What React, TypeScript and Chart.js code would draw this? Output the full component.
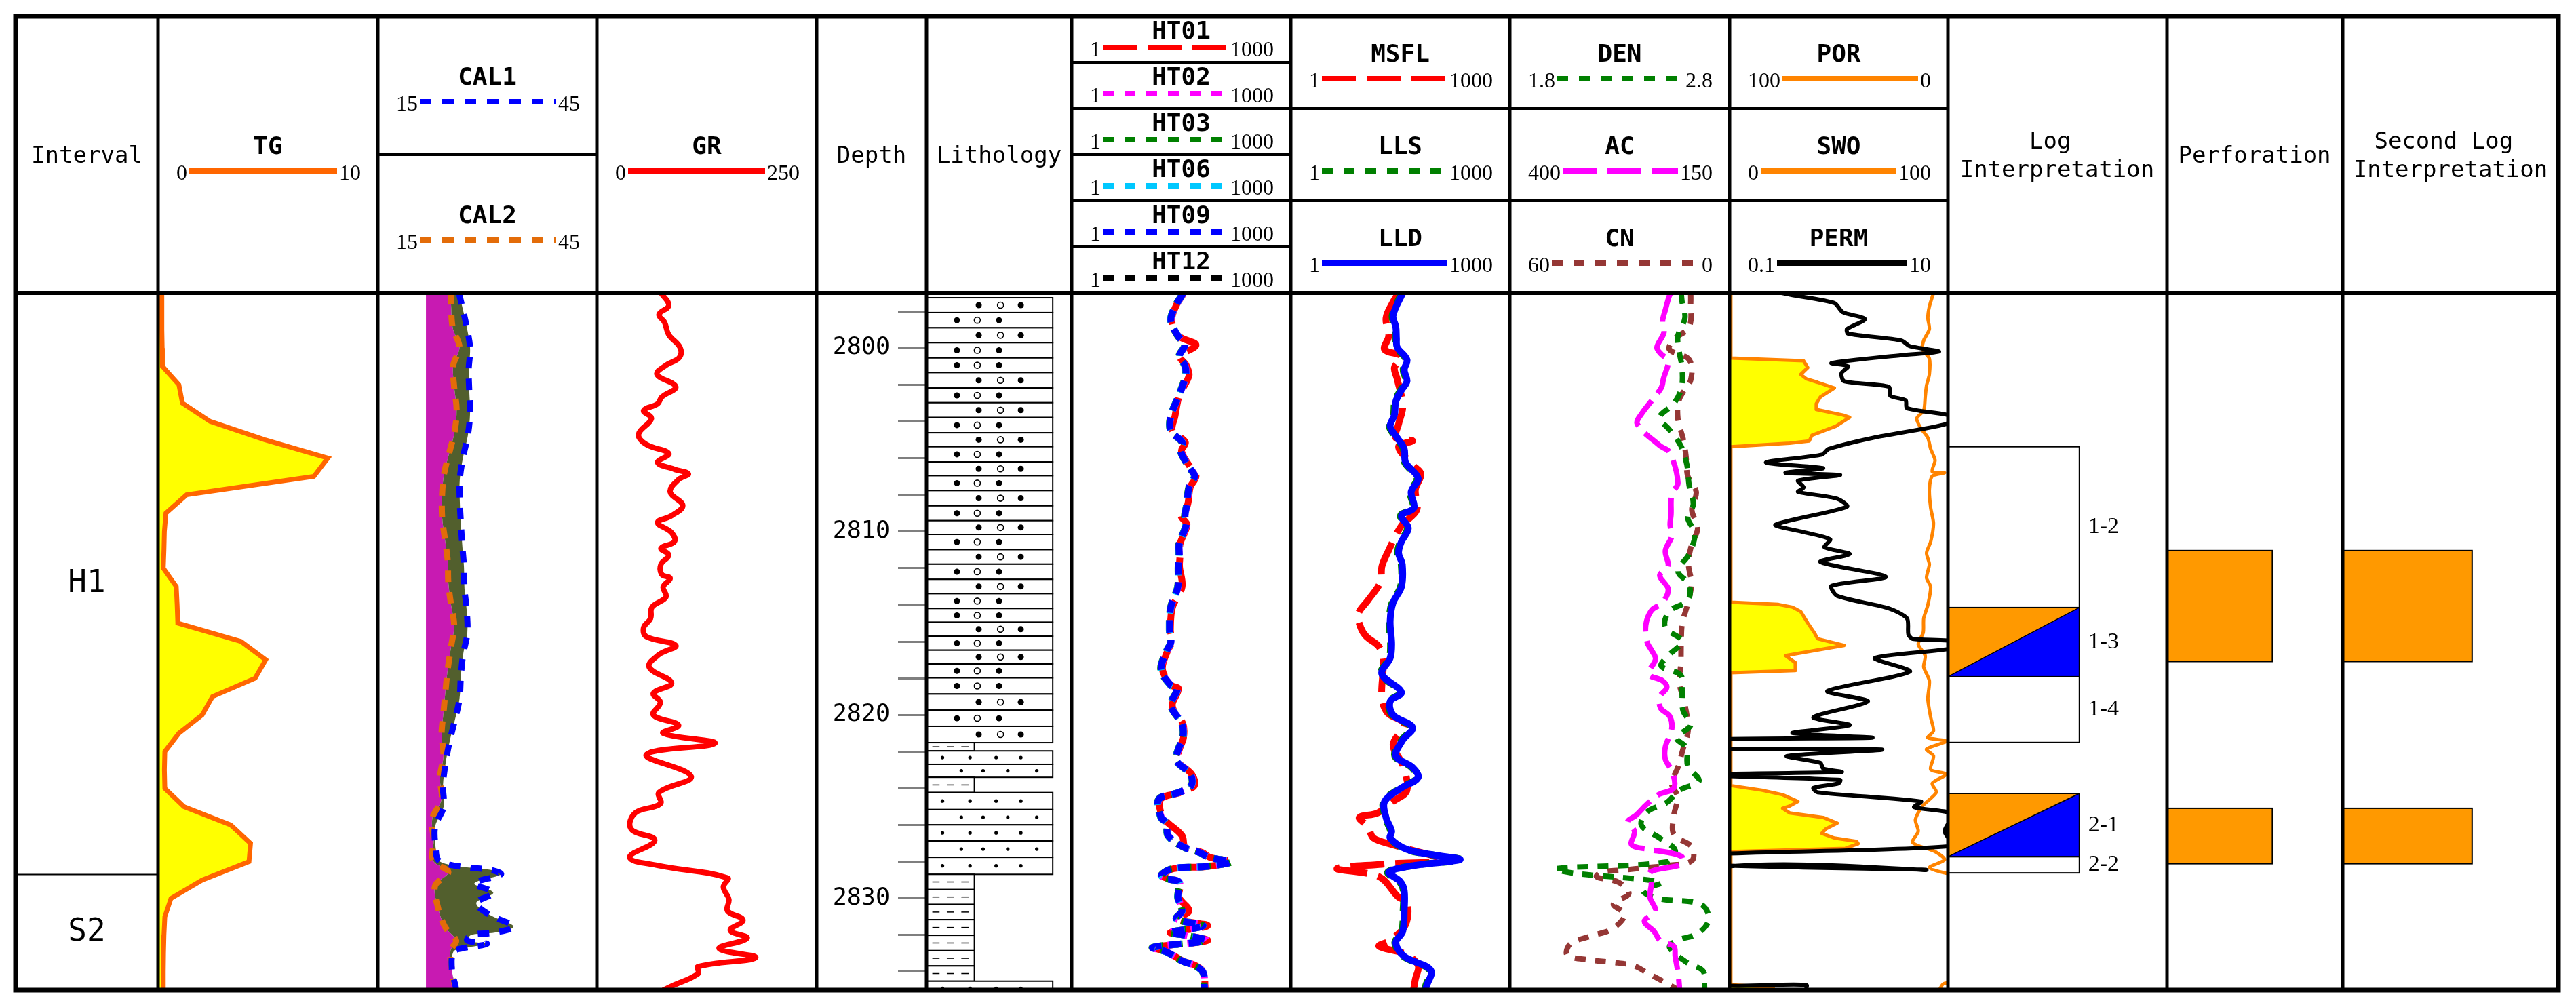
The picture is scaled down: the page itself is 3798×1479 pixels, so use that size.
import React, { useEffect, useRef } from "react";
import { Chart, registerables } from "chart.js";

Chart.register(...registerables);

/* ======================= DATA ======================= */
const DEPTH_TOP = 2797;
const DEPTH_BASE = 2835;
const DEPTH_TICKS = [2798, 2800, 2802, 2804, 2806, 2808, 2810, 2812, 2814, 2816, 2818, 2820, 2822, 2824, 2826, 2828, 2830, 2832, 2834];
const DEPTH_LABELS = [2800, 2810, 2820, 2830];

const INTERVAL_NAMES = ["H1", "S2"];
const INTERVAL_TOP = [2797, 2828.7];
const INTERVAL_BASE = [2828.7, 2835];

const TG_DEPTH = [2797, 2798, 2799, 2800, 2801, 2802, 2803, 2804, 2805, 2806, 2807, 2808, 2809, 2810, 2811, 2812, 2813, 2814, 2815, 2816, 2817, 2818, 2819, 2820, 2821, 2822, 2823, 2824, 2825, 2826, 2827, 2828, 2829, 2830, 2831, 2832, 2833, 2834, 2835];
const TG = [0.17, 0.17, 0.18, 0.19, 0.2, 0.95, 1.11, 2.37, 4.85, 7.73, 7.09, 1.3, 0.36, 0.29, 0.27, 0.24, 0.83, 0.87, 0.9, 3.78, 4.9, 4.42, 2.48, 2.01, 0.95, 0.31, 0.29, 0.31, 1.18, 3.31, 4.21, 4.14, 2.01, 0.59, 0.31, 0.27, 0.25, 0.24, 0.24];

const CAL1_DEPTH = [2797.00, 2797.62, 2798.85, 2800.02, 2801.19, 2802.36, 2803.53, 2804.76, 2805.93, 2807.17, 2808.31, 2809.54, 2810.74, 2811.91, 2813.14, 2814.31, 2815.55, 2816.71, 2817.89, 2819.13, 2820.31, 2821.43, 2822.67, 2823.85, 2825.03, 2826.09, 2827.27, 2827.89, 2828.14, 2828.32, 2828.45, 2828.69, 2829.19, 2829.69, 2830.25, 2830.90, 2831.53, 2831.86, 2831.99, 2832.30, 2832.48, 2832.73, 2832.92, 2833.91, 2834.78, 2835.00];
const CAL1 = [26.1, 26.49, 27.18, 27.64, 27.45, 27.53, 27.64, 27.34, 26.69, 26.23, 26.23, 26.38, 26.57, 26.80, 26.88, 27.18, 27.26, 26.69, 26.38, 26.19, 25.54, 24.85, 24.27, 23.93, 24.00, 22.85, 22.93, 23.24, 24.58, 27.45, 30.52, 31.86, 28.22, 30.82, 28.49, 30.33, 33.58, 31.09, 27.84, 27.26, 29.94, 26.49, 25.34, 25.15, 25.65, 25.7];
const CAL2_DEPTH = [2797.00, 2797.68, 2798.91, 2799.96, 2800.94, 2802.11, 2803.35, 2804.52, 2805.63, 2806.86, 2808.00, 2809.20, 2810.43, 2811.60, 2812.77, 2814.01, 2815.11, 2816.28, 2817.52, 2818.70, 2819.88, 2821.06, 2822.24, 2823.42, 2824.60, 2825.65, 2826.83, 2827.95, 2828.57, 2829.31, 2830.49, 2831.55, 2832.30, 2832.85, 2833.91, 2834.78, 2835.00];
const CAL2 = [25.0, 25.04, 25.27, 26.19, 25.34, 25.46, 25.80, 25.54, 24.85, 24.08, 23.81, 23.81, 24.20, 24.58, 24.66, 25.04, 25.46, 25.04, 24.58, 24.27, 24.00, 23.74, 24.00, 23.51, 23.74, 22.47, 22.66, 22.59, 24.66, 22.85, 23.24, 24.20, 25.73, 24.96, 25.15, 25.54, 25.6];
const BIT_DEPTH = [2797, 2835];
const BIT = [21.6, 21.6];

const GR_DEPTH = [2797.00, 2797.68, 2798.17, 2798.60, 2799.28, 2799.96, 2800.51, 2800.94, 2801.44, 2802.11, 2802.67, 2803.04, 2803.41, 2803.84, 2804.70, 2805.26, 2805.75, 2806.24, 2806.61, 2806.86, 2807.17, 2807.84, 2808.58, 2809.14, 2809.51, 2810.06, 2810.56, 2810.92, 2811.29, 2811.79, 2812.34, 2812.55, 2813.02, 2813.57, 2814.13, 2814.74, 2815.24, 2815.73, 2816.21, 2816.71, 2817.39, 2818.26, 2818.82, 2819.32, 2820.00, 2820.56, 2821.00, 2821.55, 2822.17, 2823.35, 2824.22, 2824.84, 2825.34, 2826.21, 2826.83, 2827.76, 2828.20, 2828.88, 2829.38, 2830.06, 2830.68, 2831.18, 2831.74, 2832.17, 2832.73, 2833.23, 2833.72, 2834.10, 2834.78, 2835.00];
const GR = [72.9, 81.8, 70.7, 77.0, 81.8, 94.5, 93.9, 78.6, 68.4, 89.8, 73.8, 69.1, 53.2, 62.1, 47.4, 56.3, 81.8, 69.1, 88.2, 104.1, 92.9, 83.4, 97.7, 85.0, 69.1, 85.0, 88.2, 72.9, 81.8, 72.9, 73.8, 83.4, 75.4, 78.6, 62.7, 61.1, 53.2, 56.3, 89.8, 70.7, 59.5, 85.0, 64.3, 72.3, 64.3, 92.9, 75.4, 134.3, 56.3, 107.3, 70.7, 72.3, 43.6, 38.8, 65.9, 37.2, 69.1, 148.6, 143.9, 150.2, 148.6, 166.2, 151.8, 170.9, 139.1, 180.5, 115.2, 115.2, 85.0, 75.4];

const LITH_BOUNDS = [2797.26, 2798.07, 2798.90, 2799.71, 2800.54, 2801.34, 2802.18, 2802.98, 2803.79, 2804.62, 2805.38, 2806.21, 2806.96, 2807.77, 2808.60, 2809.41, 2810.16, 2810.99, 2811.78, 2812.61, 2813.39, 2814.20, 2814.95, 2815.71, 2816.47, 2817.22, 2817.98, 2818.86, 2819.74, 2820.62, 2821.51, 2821.96, 2822.69, 2823.40, 2824.23, 2825.16, 2825.99, 2826.87, 2827.76, 2828.69, 2829.52, 2830.33, 2831.16, 2832.01, 2832.85, 2833.68, 2834.51, 2835.30];
const LITH_TYPE = ["PR", "PL", "PR", "PL", "PL", "PR", "PL", "PR", "PL", "PR", "PL", "PR", "PL", "PR", "PL", "PR", "PL", "PR", "PL", "PR", "PL", "PL", "PR", "PL", "PR", "PL", "PL", "PR", "PL", "PR", "M", "SA", "SB", "M", "SA", "SB", "SA", "SB", "SA", "M", "M", "M", "M", "M", "M", "M", "SA"];

const HT_DEPTH = [2797.00, 2797.12, 2797.62, 2798.48, 2799.34, 2799.83, 2800.45, 2800.94, 2801.50, 2802.55, 2803.72, 2804.52, 2805.13, 2805.63, 2806.49, 2806.98, 2807.60, 2808.58, 2809.14, 2809.63, 2810.68, 2811.29, 2811.91, 2813.02, 2814.13, 2815.36, 2816.03, 2816.52, 2817.52, 2818.39, 2818.57, 2819.38, 2819.75, 2820.50, 2821.24, 2821.86, 2822.49, 2823.23, 2823.85, 2824.22, 2824.60, 2825.59, 2825.90, 2826.58, 2827.20, 2827.51, 2827.76, 2828.01, 2828.26, 2828.38, 2828.76, 2828.94, 2829.13, 2829.94, 2830.68, 2831.12, 2831.49, 2831.86, 2831.99, 2832.30, 2832.67, 2832.92, 2833.41, 2833.66, 2834.03, 2834.78, 2835.00];
const HT01 = [33.5, 33.0, 27.5, 23.5, 29.0, 50.5, 30.5, 37.0, 40.5, 30.0, 26.0, 24.0, 36.0, 32.0, 42.0, 50.5, 42.0, 38.5, 31.5, 38.0, 30.5, 30.5, 30.0, 32.5, 24.0, 22.5, 23.5, 20.5, 17.5, 23.5, 29.0, 24.0, 25.0, 33.5, 34.0, 30.0, 28.0, 44.0, 48.0, 31.0, 16.5, 17.5, 21.0, 32.5, 36.0, 62.0, 78.0, 150, 72.0, 25.0, 17.5, 21.5, 30.5, 29.5, 40.5, 28.0, 73.0, 22.5, 35.0, 72.0, 13.5, 20.5, 33.5, 50.0, 64.0, 67.0, 67.0];
const HT02 = [33.2, 32.8, 27.5, 23.0, 28.8, 35.8, 30.0, 35.8, 36.8, 30.0, 23.0, 23.0, 32.8, 31.4, 40.9, 48.8, 40.9, 38.1, 35.8, 37.5, 30.0, 30.0, 29.3, 28.8, 23.0, 22.1, 23.0, 20.2, 17.0, 23.0, 28.3, 23.0, 24.5, 32.8, 33.7, 29.3, 27.5, 42.7, 43.8, 30.0, 15.8, 17.0, 20.2, 21.1, 34.3, 58.2, 75.8, 150, 69.4, 24.1, 17.0, 21.1, 30.0, 28.8, 32.8, 27.5, 63.5, 22.1, 34.3, 69.4, 13.0, 20.2, 32.8, 48.8, 63.5, 66.5, 66.7];
const HT03 = [32.7, 32.2, 26.9, 22.6, 28.2, 35.1, 29.4, 35.1, 36.0, 29.4, 22.6, 22.6, 32.2, 30.8, 40.1, 47.8, 40.1, 37.3, 35.1, 36.7, 29.4, 29.4, 28.7, 28.2, 22.6, 21.7, 22.6, 19.8, 16.6, 22.6, 27.7, 22.6, 24.1, 32.2, 33.1, 28.7, 26.9, 41.9, 43.0, 29.4, 15.4, 16.6, 19.8, 20.7, 33.7, 57.0, 74.3, 154, 68.0, 23.7, 16.6, 20.7, 29.4, 28.2, 32.2, 26.9, 62.3, 21.7, 33.7, 68.0, 12.8, 19.8, 32.2, 47.8, 62.3, 65.1, 65.3];
const HT06 = [33.3, 32.4, 27.4, 22.7, 28.7, 35.3, 29.9, 35.2, 36.6, 29.5, 22.9, 22.7, 32.7, 31.0, 40.7, 48.0, 40.8, 37.5, 35.7, 36.9, 29.9, 29.6, 29.2, 28.4, 22.9, 21.8, 22.9, 19.9, 16.9, 22.7, 28.2, 22.7, 24.4, 32.4, 33.6, 28.9, 27.3, 42.1, 43.6, 29.6, 15.7, 16.7, 20.1, 20.8, 34.2, 57.3, 75.4, 151, 69.1, 23.8, 16.9, 20.8, 29.9, 28.4, 32.7, 27.1, 63.2, 21.8, 34.2, 68.5, 13.0, 19.9, 32.7, 48.1, 63.2, 65.6, 65.9];
const HT09 = [33.0, 32.5, 27.2, 22.8, 28.5, 35.5, 29.7, 35.5, 36.4, 29.7, 22.8, 22.8, 32.5, 31.1, 40.5, 48.3, 40.5, 37.7, 35.5, 37.1, 29.7, 29.7, 29.0, 28.5, 22.8, 21.9, 22.8, 20.0, 16.8, 22.8, 28.0, 22.8, 24.3, 32.5, 33.4, 29.0, 27.2, 42.3, 43.4, 29.7, 15.6, 16.8, 20.0, 20.9, 34.0, 57.6, 75.0, 152, 68.7, 23.9, 16.8, 20.9, 29.7, 28.5, 32.5, 27.2, 62.9, 21.9, 34.0, 68.7, 12.9, 20.0, 32.5, 48.3, 62.9, 65.8, 66.0];
const HT12 = [32.9, 32.5, 27.1, 22.8, 28.4, 35.4, 29.7, 35.4, 36.3, 29.7, 22.8, 22.7, 32.4, 31.1, 40.4, 48.2, 40.4, 37.6, 35.4, 37.0, 29.7, 29.6, 29.0, 28.4, 22.8, 21.9, 22.7, 20.0, 16.8, 22.8, 27.9, 22.8, 24.2, 32.4, 33.4, 29.0, 27.1, 42.2, 43.3, 29.7, 15.6, 16.8, 20.0, 20.9, 33.9, 57.5, 74.8, 152, 68.6, 23.9, 16.8, 20.9, 29.6, 28.5, 32.4, 27.2, 62.8, 21.9, 33.9, 68.6, 12.9, 20.0, 32.4, 48.2, 62.8, 65.7, 65.9];

const MSFL_DEPTH = [2797.00, 2797.49, 2798.36, 2799.34, 2800.08, 2800.45, 2801.07, 2801.68, 2803.16, 2804.15, 2804.90, 2805.05, 2805.38, 2806.37, 2806.86, 2807.72, 2808.83, 2809.69, 2811.17, 2811.91, 2812.77, 2813.76, 2814.50, 2815.24, 2815.73, 2816.28, 2817.02, 2819.01, 2819.88, 2820.50, 2821.62, 2822.73, 2824.10, 2824.72, 2825.34, 2825.59, 2826.09, 2826.71, 2827.08, 2827.89, 2828.14, 2828.38, 2828.82, 2829.94, 2830.18, 2831.43, 2832.30, 2832.61, 2833.04, 2833.66, 2834.41, 2835.00];
const MSFL = [30.0, 25.2, 20.2, 22.0, 19.3, 32.8, 26.3, 28.7, 34.2, 30.0, 27.5, 46.6, 30.0, 46.6, 60.7, 50.9, 53.2, 32.8, 21.1, 17.7, 16.9, 11.4, 8.4, 9.1, 10.9, 16.2, 18.5, 17.7, 21.1, 35.8, 25.2, 34.2, 39.1, 25.2, 15.5, 8.7, 11.4, 13.6, 25.2, 112, 17.7, 4.3, 16.2, 30.0, 39.1, 37.4, 23.0, 16.2, 37.4, 55.6, 50.9, 48.0];
const LL_DEPTH = [2797.00, 2798.23, 2798.85, 2799.46, 2799.96, 2800.64, 2801.19, 2801.81, 2802.30, 2802.91, 2803.65, 2804.27, 2804.89, 2805.50, 2806.24, 2807.10, 2807.84, 2808.71, 2809.14, 2809.82, 2810.56, 2811.17, 2811.79, 2813.02, 2813.88, 2814.87, 2816.15, 2816.90, 2817.77, 2818.76, 2819.26, 2820.00, 2820.68, 2821.37, 2822.24, 2822.86, 2823.42, 2823.98, 2824.72, 2825.59, 2826.34, 2826.71, 2827.33, 2827.64, 2827.89, 2828.20, 2828.57, 2829.07, 2829.56, 2830.68, 2831.80, 2832.42, 2833.16, 2833.91, 2834.78, 2835.00];
const LLS = [33.0, 24.5, 26.6, 27.2, 27.8, 37.9, 34.6, 37.8, 31.8, 26.6, 25.5, 22.3, 27.8, 34.7, 36.2, 53.8, 43.2, 47.1, 31.8, 39.5, 31.8, 29.0, 32.6, 31.8, 24.4, 22.3, 23.3, 22.3, 17.2, 31.7, 22.3, 24.4, 45.1, 33.1, 26.6, 45.1, 53.8, 31.8, 18.7, 19.6, 23.3, 22.3, 37.9, 91.2, 214, 49.3, 21.3, 30.4, 34.7, 34.6, 33.1, 26.6, 34.6, 80.0, 70.1, 67.8];
const LLD = [34.2, 25.2, 27.5, 28.0, 28.7, 39.1, 35.8, 39.1, 32.8, 27.5, 26.3, 23.0, 28.7, 35.8, 37.4, 55.6, 44.6, 48.7, 32.8, 40.8, 32.8, 30.0, 33.7, 32.8, 25.2, 23.0, 24.1, 23.0, 17.7, 32.8, 23.0, 25.2, 46.6, 34.2, 27.5, 46.6, 55.6, 32.8, 19.3, 20.2, 24.1, 23.0, 39.1, 94.3, 208, 50.9, 22.0, 31.4, 35.8, 35.8, 34.2, 27.5, 35.8, 82.7, 72.4, 70.0];

const DEN_DEPTH = [2797.00, 2797.49, 2798.36, 2799.34, 2800.27, 2801.07, 2802.18, 2803.04, 2803.78, 2804.46, 2805.32, 2806.37, 2807.47, 2808.52, 2809.26, 2810.12, 2811.23, 2812.16, 2812.90, 2813.76, 2814.37, 2815.24, 2815.98, 2816.71, 2817.33, 2817.83, 2818.70, 2819.75, 2820.56, 2821.24, 2821.80, 2822.80, 2823.60, 2824.10, 2824.78, 2825.28, 2826.02, 2826.71, 2827.39, 2828.01, 2828.38, 2828.63, 2829.13, 2829.56, 2830.00, 2830.31, 2831.12, 2831.92, 2832.30, 2832.67, 2833.48, 2833.97, 2834.78, 2835.00];
const DEN = [2.58, 2.584, 2.597, 2.565, 2.572, 2.584, 2.581, 2.546, 2.482, 2.527, 2.578, 2.606, 2.616, 2.635, 2.610, 2.642, 2.616, 2.565, 2.616, 2.610, 2.524, 2.508, 2.584, 2.527, 2.489, 2.578, 2.584, 2.588, 2.623, 2.559, 2.604, 2.610, 2.661, 2.572, 2.514, 2.425, 2.399, 2.482, 2.553, 2.514, 2.010, 2.093, 2.489, 2.406, 2.470, 2.667, 2.706, 2.655, 2.559, 2.527, 2.604, 2.680, 2.686, 2.686];
const AC_DEPTH = [2797.00, 2797.12, 2797.92, 2798.54, 2799.16, 2799.96, 2800.33, 2800.70, 2801.68, 2802.18, 2803.59, 2804.15, 2805.32, 2805.69, 2807.35, 2807.97, 2809.08, 2809.63, 2810.25, 2811.05, 2811.91, 2812.40, 2813.14, 2813.88, 2814.31, 2815.11, 2816.04, 2816.46, 2816.96, 2817.77, 2818.14, 2818.51, 2819.01, 2819.63, 2820.06, 2820.75, 2821.74, 2822.42, 2823.11, 2823.98, 2824.35, 2824.85, 2825.47, 2825.84, 2826.34, 2827.08, 2827.33, 2827.70, 2828.14, 2828.57, 2829.19, 2829.94, 2830.68, 2831.24, 2831.80, 2832.36, 2832.61, 2833.17, 2834.03, 2834.78, 2835.00];
const AC = [216.0, 218.2, 223.0, 226.2, 224.6, 232.6, 227.8, 219.8, 225.2, 227.8, 250.1, 254.9, 229.4, 218.2, 208.7, 215.7, 216.6, 217.6, 215.7, 223.0, 219.8, 229.4, 219.8, 226.2, 238.9, 245.3, 243.7, 238.9, 234.2, 242.1, 226.2, 221.4, 229.4, 228.4, 218.2, 215.7, 223.0, 223.0, 215.0, 213.4, 231.0, 243.7, 256.5, 266.1, 258.1, 261.3, 240.5, 204.8, 204.8, 240.5, 238.9, 240.5, 234.2, 246.9, 235.8, 227.8, 213.4, 211.8, 208.7, 207.1, 207.0];
const CN_DEPTH = [2797.00, 2797.49, 2798.85, 2799.53, 2800.08, 2800.64, 2801.74, 2802.79, 2803.84, 2805.01, 2805.87, 2806.98, 2807.84, 2808.83, 2809.82, 2810.74, 2811.79, 2812.83, 2813.94, 2814.99, 2815.98, 2817.21, 2818.26, 2819.26, 2820.37, 2820.99, 2821.86, 2822.86, 2823.73, 2824.47, 2825.47, 2826.52, 2827.20, 2827.95, 2828.20, 2828.32, 2828.45, 2828.57, 2828.82, 2829.13, 2829.75, 2830.31, 2830.87, 2831.67, 2832.05, 2832.48, 2833.10, 2833.35, 2833.48, 2833.66, 2834.10, 2834.59, 2834.97];
const CN = [10.6, 10.6, 11.0, 15.2, 16.4, 11.0, 10.6, 13.7, 14.1, 12.6, 11.9, 11.4, 9.1, 10.3, 8.7, 10.4, 11.2, 10.4, 11.4, 12.9, 13.2, 13.3, 13.7, 12.4, 11.4, 11.4, 12.7, 14.1, 15.8, 14.2, 15.2, 15.2, 10.3, 10.3, 16.4, 22.5, 28.6, 34.7, 36.3, 30.2, 27.5, 31.7, 28.6, 32.1, 37.8, 43.5, 44.3, 38.2, 32.1, 26.3, 22.1, 17.5, 14.1];

const POR_DEPTH = [2797.00, 2797.74, 2798.36, 2798.97, 2799.59, 2800.08, 2800.57, 2801.44, 2802.05, 2802.67, 2803.41, 2803.84, 2804.39, 2804.89, 2805.50, 2806.12, 2806.74, 2806.80, 2806.98, 2807.72, 2808.71, 2809.57, 2810.56, 2811.17, 2811.79, 2812.53, 2813.02, 2814.01, 2814.74, 2815.50, 2816.15, 2816.77, 2817.39, 2818.14, 2819.13, 2820.13, 2820.87, 2821.24, 2821.43, 2821.86, 2822.24, 2822.98, 2823.23, 2823.73, 2824.22, 2824.97, 2825.71, 2826.34, 2826.96, 2827.45, 2827.89, 2828.32, 2828.63, 2828.80, 2834.40, 2834.65, 2835.00];
const POR = [6.6, 8.5, 9.2, 8.5, 11.1, 11.7, 8.5, 8.5, 9.8, 10.4, 11.1, 14.3, 12.3, 9.2, 7.9, 5.9, 7.2, 1.5, 7.2, 8.5, 7.9, 6.6, 7.9, 9.8, 8.5, 9.8, 7.9, 9.2, 11.1, 11.3, 13.6, 10.4, 11.1, 8.5, 9.2, 7.9, 6.6, 9.2, 0.8, 9.8, 6.6, 7.9, 0.8, 7.2, 5.3, 11.7, 14.9, 13.6, 16.2, 5.9, 1.5, 8.5, 0.8, -8, -8, 2, 4];
const SWO_DEPTH = [2797.00, 2800.55, 2800.70, 2801.07, 2801.44, 2801.68, 2801.87, 2802.18, 2802.67, 2803.04, 2803.35, 2803.65, 2803.78, 2804.27, 2804.76, 2805.07, 2805.19, 2805.38, 2813.86, 2813.98, 2814.13, 2814.37, 2814.99, 2815.55, 2815.85, 2816.21, 2816.46, 2816.77, 2817.15, 2817.58, 2817.70, 2823.85, 2824.10, 2824.35, 2824.72, 2824.97, 2825.09, 2825.34, 2825.59, 2825.90, 2826.21, 2826.46, 2826.71, 2826.89, 2827.02, 2827.27, 2827.45, 2834.70, 2834.85, 2835.00];
const SWO = [0.6, 0.6, 33.9, 35.8, 32.6, 35.2, 40.3, 48.0, 41.6, 39.7, 39.7, 51.8, 55.0, 48.6, 37.7, 36.5, 27.5, 0.6, 0.6, 22.4, 28.8, 32.6, 35.8, 39.0, 40.3, 52.5, 40.3, 25.6, 30.1, 30.1, 0.6, 0.6, 14.7, 24.3, 31.3, 27.5, 24.3, 27.5, 42.9, 49.3, 44.1, 42.2, 48.0, 58.2, 58.9, 53.1, 0.6, 0.6, 20, 20];
const PERM_DEPTH = [2797.00, 2797.12, 2797.55, 2798.05, 2798.42, 2798.97, 2799.22, 2799.59, 2799.90, 2800.20, 2800.39, 2800.82, 2801.00, 2801.37, 2801.81, 2802.11, 2802.61, 2802.85, 2803.28, 2803.72, 2804.15, 2804.89, 2805.50, 2805.81, 2806.24, 2806.55, 2806.80, 2806.92, 2807.23, 2807.60, 2807.84, 2808.21, 2808.65, 2809.63, 2810.00, 2810.43, 2810.86, 2811.23, 2811.66, 2812.47, 2812.96, 2813.51, 2814.19, 2814.74, 2815.61, 2815.85, 2815.98, 2816.34, 2816.90, 2817.64, 2818.70, 2819.26, 2820.13, 2820.56, 2820.99, 2821.24, 2821.37, 2821.80, 2821.89, 2822.24, 2822.61, 2822.92, 2823.11, 2823.26, 2823.54, 2823.73, 2823.98, 2824.22, 2824.72, 2825.03, 2825.40, 2826.34, 2827.14, 2827.64, 2828.14, 2828.45, 2828.63, 2834.34, 2834.72, 2835.00];
const PERM = [0.30, 0.377, 0.912, 1.09, 1.74, 1.19, 1.22, 3.75, 4.48, 8.30, 3.75, 0.859, 1.22, 1.06, 1.12, 2.87, 2.97, 4.10, 4.22, 11, 9.6, 2.08, 0.811, 0.700, 0.215, 0.720, 0.325, 1.03, 0.424, 0.477, 0.424, 0.966, 1.19, 0.264, 0.450, 0.834, 0.741, 1.26, 0.679, 2.71, 0.859, 0.966, 2.87, 4.22, 4.34, 4.74, 11, 12, 2.14, 4.48, 0.787, 1.85, 0.586, 1.26, 0.377, 2.02, 0.05, 0.05, 2.48, 0.335, 0.679, 0.720, 1.06, 0.05, 1.03, 1.0, 0.586, 0.64, 5.67, 4.9, 11, 9.3, 11, 0.05, 0.05, 6.37, 0.05, 0.05, 0.506, 0.5];

const LAYER_NAMES = ["1-2", "1-3", "1-4", "2-1", "2-2"];
const LAYER_TOP = [2805.38, 2814.15, 2817.92, 2824.28, 2827.73];
const LAYER_BASE = [2814.15, 2817.92, 2821.50, 2827.73, 2828.61];
const LAYER_TYPE = ["dry", "oilwater", "dry", "oilwater", "dry"];
const PERF_TOP = [2811.04, 2825.09];
const PERF_BASE = [2817.09, 2828.11];
const SECOND_TOP = [2811.04, 2825.09];
const SECOND_BASE = [2817.09, 2828.11];

/* ======================= LAYOUT / STYLE ======================= */
const COL_X = [23, 233, 557, 880, 1204, 1366, 1580, 1903, 2226, 2550, 2872, 3195, 3454, 3772];
const FRAME_TOP = 24;
const HEAD_BOTTOM = 432;
const FRAME_BOTTOM = 1460;
const PLOT_H = FRAME_BOTTOM - HEAD_BOTTOM;
const SANS = "'DejaVu Sans Mono', monospace";
const SERIF = "'Liberation Serif', serif";
const OLIVE = "#525F2D";
const MAGENTA_FILL = "#C81AB2";
const OIL_ORANGE = "#FF9900";
const POR_ORANGE = "#FF8400";
const CN_BROWN = "#953735";
const CYAN = "#00C8FF";
const HT_DASH = [18, 11];

/* ======================= CHART HELPERS ======================= */
const yDepth = (): any => ({ type: "linear", min: DEPTH_TOP, max: DEPTH_BASE, reverse: true, display: false });

function baseOptions(scales: any): any {
  return {
    animation: false,
    responsive: false,
    maintainAspectRatio: false,
    devicePixelRatio: 1,
    indexAxis: "y",
    events: [],
    layout: { padding: 0 },
    plugins: { legend: { display: false }, tooltip: { enabled: false }, colors: { enabled: false } },
    elements: { point: { radius: 0, hoverRadius: 0 } },
    scales,
  };
}

function series(depths: number[], values: number[]) {
  return depths.map((d, i) => ({ x: values[i], y: d }));
}

function curve(depths: number[], values: number[], o: any): any {
  return {
    data: series(depths, values),
    pointRadius: 0,
    fill: false,
    borderCapStyle: "butt",
    borderJoinStyle: "round",
    tension: 0.35,
    ...o,
  };
}

/* ----- track configs ----- */
const tgConfig = () => ({
  type: "line",
  data: {
    datasets: [
      curve(TG_DEPTH, TG, { borderColor: "#FF6600", borderWidth: 7, tension: 0, fill: { value: 0 }, backgroundColor: "#FFFF00", borderJoinStyle: "miter" }),
    ],
  },
  options: baseOptions({ x: { type: "linear", min: 0, max: 10, display: false }, y: yDepth() }),
});

const calConfig = () => ({
  type: "line",
  data: {
    datasets: [
      curve(CAL1_DEPTH, CAL1, { borderColor: "#0000FF", borderWidth: 9, borderDash: [17, 15] }),
      curve(CAL2_DEPTH, CAL2, { borderColor: "#E36C09", borderWidth: 9, borderDash: [17, 15], fill: 0, backgroundColor: OLIVE }),
      curve(BIT_DEPTH, BIT, { borderColor: MAGENTA_FILL, borderWidth: 0, tension: 0, fill: 1, backgroundColor: MAGENTA_FILL }),
    ],
  },
  options: baseOptions({ x: { type: "linear", min: 15, max: 45, display: false }, y: yDepth() }),
});

const grConfig = () => ({
  type: "line",
  data: { datasets: [curve(GR_DEPTH, GR, { borderColor: "#FF0000", borderWidth: 8, tension: 0.4 })] },
  options: baseOptions({ x: { type: "linear", min: 0, max: 250, display: false }, y: yDepth() }),
});

const htConfig = () => ({
  type: "line",
  data: {
    datasets: [
      curve(HT_DEPTH, HT09, { borderColor: "#0000FF", borderWidth: 10, borderDash: HT_DASH }),
      curve(HT_DEPTH, HT06, { borderColor: CYAN, borderWidth: 10, borderDash: HT_DASH }),
      curve(HT_DEPTH, HT03, { borderColor: "#008000", borderWidth: 10, borderDash: HT_DASH }),
      curve(HT_DEPTH, HT02, { borderColor: "#FF00FF", borderWidth: 10, borderDash: HT_DASH }),
      curve(HT_DEPTH, HT12, { borderColor: "#000000", borderWidth: 9, borderDash: HT_DASH }),
      curve(HT_DEPTH, HT01, { borderColor: "#FF0000", borderWidth: 10, borderDash: [50, 16] }),
    ],
  },
  options: baseOptions({ x: { type: "logarithmic", min: 1, max: 1000, display: false }, y: yDepth() }),
});

const resConfig = () => ({
  type: "line",
  data: {
    datasets: [
      curve(LL_DEPTH, LLD, { borderColor: "#0000FF", borderWidth: 10 }),
      curve(LL_DEPTH, LLS, { borderColor: "#008000", borderWidth: 10, borderDash: [16, 14] }),
      curve(MSFL_DEPTH, MSFL, { borderColor: "#FF0000", borderWidth: 10, borderDash: [50, 16] }),
    ],
  },
  options: baseOptions({ x: { type: "logarithmic", min: 1, max: 1000, display: false }, y: yDepth() }),
});

const porosityLogsConfig = () => ({
  type: "line",
  data: {
    datasets: [
      curve(AC_DEPTH, AC, { xAxisID: "xAC", borderColor: "#FF00FF", borderWidth: 8, borderDash: [45, 14] }),
      curve(DEN_DEPTH, DEN, { xAxisID: "xDEN", borderColor: "#008000", borderWidth: 8, borderDash: [16, 14] }),
      curve(CN_DEPTH, CN, { xAxisID: "xCN", borderColor: CN_BROWN, borderWidth: 8, borderDash: [16, 14] }),
    ],
  },
  options: baseOptions({
    xDEN: { axis: "x", type: "linear", min: 1.8, max: 2.8, display: false },
    xAC: { axis: "x", type: "linear", min: 150, max: 400, reverse: true, display: false },
    xCN: { axis: "x", type: "linear", min: 0, max: 60, reverse: true, display: false },
    y: yDepth(),
  }),
});

const evalConfig = () => ({
  type: "line",
  data: {
    datasets: [
      curve(PERM_DEPTH, PERM, { xAxisID: "xPERM", borderColor: "#000000", borderWidth: 6, tension: 0.25 }),
      curve(POR_DEPTH, POR, { xAxisID: "xPOR", borderColor: POR_ORANGE, borderWidth: 5, tension: 0.25 }),
      curve(SWO_DEPTH, SWO, { xAxisID: "xSWO", borderColor: POR_ORANGE, borderWidth: 5, tension: 0, fill: { value: 0 }, backgroundColor: "#FFFF00" }),
    ],
  },
  options: baseOptions({
    xPERM: { axis: "x", type: "logarithmic", min: 0.1, max: 10, display: false },
    xPOR: { axis: "x", type: "linear", min: 0, max: 100, reverse: true, display: false },
    xSWO: { axis: "x", type: "linear", min: 0, max: 100, display: false },
    y: yDepth(),
  }),
});

const depthConfig = () => ({
  type: "line",
  data: { datasets: [] },
  options: {
    ...baseOptions({
      x: { type: "linear", min: 0, max: 1, display: false },
      y: {
        type: "linear",
        position: "left",
        min: DEPTH_TOP,
        max: DEPTH_BASE,
        reverse: true,
        afterBuildTicks: (s: any) => {
          s.ticks = DEPTH_TICKS.map((v) => ({ value: v }));
        },
        afterFit: (s: any) => {
          s.width = 160;
          s.paddingTop = 0;
          s.paddingBottom = 0;
        },
        border: { display: false },
        grid: { drawOnChartArea: false, drawTicks: true, tickLength: 40, tickColor: "#7F7F7F", tickWidth: 3 },
        ticks: {
          autoSkip: false,
          maxRotation: 0,
          minRotation: 0,
          padding: 12,
          color: "#000",
          font: { family: "DejaVu Sans Mono", size: 35 },
          callback: (v: any) => (DEPTH_LABELS.indexOf(Number(v)) >= 0 ? String(v) : ""),
        },
      },
    }),
  },
});

/* ----- plugin-drawn columns (use chart scales) ----- */
function emptyConfig(plugin: any) {
  return () => ({
    type: "line",
    data: { datasets: [] },
    options: baseOptions({ x: { type: "linear", min: 0, max: 1, display: false }, y: yDepth() }),
    plugins: [plugin],
  });
}

const intervalPlugin = {
  id: "intervalCol",
  afterDraw(chart: any) {
    const { ctx } = chart;
    const xs = chart.scales.x, ys = chart.scales.y;
    ctx.save();
    for (let i = 0; i < INTERVAL_NAMES.length; i++) {
      const y0 = ys.getPixelForValue(INTERVAL_TOP[i]);
      const y1 = ys.getPixelForValue(INTERVAL_BASE[i]);
      if (i > 0) {
        ctx.strokeStyle = "#000";
        ctx.lineWidth = 2;
        ctx.beginPath();
        ctx.moveTo(xs.getPixelForValue(0), y0);
        ctx.lineTo(xs.getPixelForValue(1), y0);
        ctx.stroke();
      }
      ctx.fillStyle = "#000";
      ctx.font = "46px 'DejaVu Sans Mono'";
      ctx.textAlign = "center";
      ctx.textBaseline = "middle";
      ctx.fillText(INTERVAL_NAMES[i], xs.getPixelForValue(0.5), (y0 + y1) / 2);
    }
    ctx.restore();
  },
};

const LITH_SAND_W = 0.87;
const LITH_MUD_W = 0.33;
const lithPlugin = {
  id: "lithCol",
  afterDraw(chart: any) {
    const { ctx } = chart;
    const xs = chart.scales.x, ys = chart.scales.y;
    const area = chart.chartArea;
    ctx.save();
    ctx.beginPath();
    ctx.rect(area.left, area.top, area.right - area.left, area.bottom - area.top);
    ctx.clip();
    for (let i = 0; i < LITH_TYPE.length; i++) {
      const t = LITH_TYPE[i];
      const y0 = ys.getPixelForValue(LITH_BOUNDS[i]);
      const y1 = ys.getPixelForValue(LITH_BOUNDS[i + 1]);
      const x0 = xs.getPixelForValue(0);
      const x1 = xs.getPixelForValue(t === "M" ? LITH_MUD_W : LITH_SAND_W);
      ctx.fillStyle = "#fff";
      ctx.fillRect(x0, y0, x1 - x0, y1 - y0);
      ctx.strokeStyle = "#000";
      ctx.lineWidth = 2;
      ctx.strokeRect(x0, y0, x1 - x0, y1 - y0);
      const ym = (y0 + y1) / 2;
      ctx.fillStyle = "#000";
      if (t === "PL" || t === "PR") {
        const pos = t === "PL" ? [0.21, 0.35, 0.5] : [0.36, 0.51, 0.65];
        pos.forEach((p, k) => {
          ctx.beginPath();
          ctx.arc(xs.getPixelForValue(p), ym, 4.5, 0, Math.PI * 2);
          if (k === 1) {
            ctx.lineWidth = 1.6;
            ctx.stroke();
          } else {
            ctx.fill();
          }
        });
      } else if (t === "SA" || t === "SB") {
        const pos = t === "SA" ? [0.11, 0.3, 0.48, 0.65] : [0.24, 0.39, 0.56, 0.76];
        pos.forEach((p) => {
          ctx.beginPath();
          ctx.arc(xs.getPixelForValue(p), ym, 2.6, 0, Math.PI * 2);
          ctx.fill();
        });
      } else {
        ctx.lineWidth = 1.5;
        [0.04, 0.14, 0.24].forEach((p) => {
          ctx.beginPath();
          ctx.moveTo(xs.getPixelForValue(p), ym);
          ctx.lineTo(xs.getPixelForValue(p + 0.05), ym);
          ctx.stroke();
        });
      }
    }
    ctx.restore();
  },
};

const interpPlugin = {
  id: "interpCol",
  afterDraw(chart: any) {
    const { ctx } = chart;
    const xs = chart.scales.x, ys = chart.scales.y;
    ctx.save();
    for (let i = 0; i < LAYER_NAMES.length; i++) {
      const y0 = ys.getPixelForValue(LAYER_TOP[i]);
      const y1 = ys.getPixelForValue(LAYER_BASE[i]);
      const x0 = xs.getPixelForValue(0);
      const x1 = xs.getPixelForValue(0.6);
      if (LAYER_TYPE[i] === "oilwater") {
        ctx.fillStyle = OIL_ORANGE;
        ctx.beginPath();
        ctx.moveTo(x0, y0);
        ctx.lineTo(x1, y0);
        ctx.lineTo(x0, y1);
        ctx.closePath();
        ctx.fill();
        ctx.fillStyle = "#0000FF";
        ctx.beginPath();
        ctx.moveTo(x1, y0);
        ctx.lineTo(x1, y1);
        ctx.lineTo(x0, y1);
        ctx.closePath();
        ctx.fill();
        ctx.strokeStyle = "#000";
        ctx.lineWidth = 1.5;
        ctx.beginPath();
        ctx.moveTo(x0, y1);
        ctx.lineTo(x1, y0);
        ctx.stroke();
      } else {
        ctx.fillStyle = "#fff";
        ctx.fillRect(x0, y0, x1 - x0, y1 - y0);
      }
      ctx.strokeStyle = "#000";
      ctx.lineWidth = 2;
      ctx.strokeRect(x0, y0, x1 - x0, y1 - y0);
      ctx.fillStyle = "#000";
      ctx.font = "34px 'Liberation Serif'";
      ctx.textAlign = "left";
      ctx.textBaseline = "middle";
      ctx.fillText(LAYER_NAMES[i], xs.getPixelForValue(0.64), (y0 + y1) / 2);
    }
    ctx.restore();
  },
};

function boxPlugin(id: string, tops: number[], bases: number[]) {
  return {
    id,
    afterDraw(chart: any) {
      const { ctx } = chart;
      const xs = chart.scales.x, ys = chart.scales.y;
      ctx.save();
      for (let i = 0; i < tops.length; i++) {
        const y0 = ys.getPixelForValue(tops[i]);
        const y1 = ys.getPixelForValue(bases[i]);
        const x0 = xs.getPixelForValue(0);
        const x1 = xs.getPixelForValue(0.6);
        ctx.fillStyle = OIL_ORANGE;
        ctx.fillRect(x0, y0, x1 - x0, y1 - y0);
        ctx.strokeStyle = "#000";
        ctx.lineWidth = 2;
        ctx.strokeRect(x0, y0, x1 - x0, y1 - y0);
      }
      ctx.restore();
    },
  };
}

const COLUMNS: { make: () => any }[] = [
  { make: emptyConfig(intervalPlugin) },
  { make: tgConfig },
  { make: calConfig },
  { make: grConfig },
  { make: depthConfig },
  { make: emptyConfig(lithPlugin) },
  { make: htConfig },
  { make: resConfig },
  { make: porosityLogsConfig },
  { make: evalConfig },
  { make: emptyConfig(interpPlugin) },
  { make: emptyConfig(boxPlugin("perfCol", PERF_TOP, PERF_BASE)) },
  { make: emptyConfig(boxPlugin("secondCol", SECOND_TOP, SECOND_BASE)) },
];

function ChartBox({ left, width, make }: { left: number; width: number; make: () => any }) {
  const ref = useRef<HTMLCanvasElement | null>(null);
  useEffect(() => {
    const cv = ref.current;
    if (!cv) return;
    const chart = new Chart(cv, make());
    return () => {
      chart.destroy();
    };
  }, [make]);
  return (
    <canvas
      ref={ref}
      width={width}
      height={PLOT_H}
      style={{ position: "absolute", left, top: HEAD_BOTTOM, width, height: PLOT_H, display: "block" }}
    />
  );
}

/* ======================= HEADER ======================= */
const HEAD_MID = (FRAME_TOP + HEAD_BOTTOM) / 2;
const R3 = [24, 160, 296, 432];
const R6 = [24, 92, 160, 228, 296, 364, 432];
const HEADER_CELLS = [
  { x0: 233, x1: 557, y0: 24, y1: 432, name: "TG", lo: "0", hi: "10", color: "#FF6600", dash: "" },
  { x0: 557, x1: 880, y0: 24, y1: 228, name: "CAL1", lo: "15", hi: "45", color: "#0000FF", dash: "17 16" },
  { x0: 557, x1: 880, y0: 228, y1: 432, name: "CAL2", lo: "15", hi: "45", color: "#E36C09", dash: "17 16" },
  { x0: 880, x1: 1204, y0: 24, y1: 432, name: "GR", lo: "0", hi: "250", color: "#FF0000", dash: "" },
  { x0: 1580, x1: 1903, y0: R6[0], y1: R6[1], name: "HT01", lo: "1", hi: "1000", color: "#FF0000", dash: "50 16" },
  { x0: 1580, x1: 1903, y0: R6[1], y1: R6[2], name: "HT02", lo: "1", hi: "1000", color: "#FF00FF", dash: "16 16" },
  { x0: 1580, x1: 1903, y0: R6[2], y1: R6[3], name: "HT03", lo: "1", hi: "1000", color: "#008000", dash: "16 16" },
  { x0: 1580, x1: 1903, y0: R6[3], y1: R6[4], name: "HT06", lo: "1", hi: "1000", color: CYAN, dash: "16 16" },
  { x0: 1580, x1: 1903, y0: R6[4], y1: R6[5], name: "HT09", lo: "1", hi: "1000", color: "#0000FF", dash: "16 16" },
  { x0: 1580, x1: 1903, y0: R6[5], y1: R6[6], name: "HT12", lo: "1", hi: "1000", color: "#000000", dash: "16 16" },
  { x0: 1903, x1: 2226, y0: R3[0], y1: R3[1], name: "MSFL", lo: "1", hi: "1000", color: "#FF0000", dash: "50 16" },
  { x0: 1903, x1: 2226, y0: R3[1], y1: R3[2], name: "LLS", lo: "1", hi: "1000", color: "#008000", dash: "16 16" },
  { x0: 1903, x1: 2226, y0: R3[2], y1: R3[3], name: "LLD", lo: "1", hi: "1000", color: "#0000FF", dash: "" },
  { x0: 2226, x1: 2550, y0: R3[0], y1: R3[1], name: "DEN", lo: "1.8", hi: "2.8", color: "#008000", dash: "16 16" },
  { x0: 2226, x1: 2550, y0: R3[1], y1: R3[2], name: "AC", lo: "400", hi: "150", color: "#FF00FF", dash: "50 16" },
  { x0: 2226, x1: 2550, y0: R3[2], y1: R3[3], name: "CN", lo: "60", hi: "0", color: CN_BROWN, dash: "16 16" },
  { x0: 2550, x1: 2872, y0: R3[0], y1: R3[1], name: "POR", lo: "100", hi: "0", color: POR_ORANGE, dash: "" },
  { x0: 2550, x1: 2872, y0: R3[1], y1: R3[2], name: "SWO", lo: "0", hi: "100", color: POR_ORANGE, dash: "" },
  { x0: 2550, x1: 2872, y0: R3[2], y1: R3[3], name: "PERM", lo: "0.1", hi: "10", color: "#000000", dash: "" },
];
const COLUMN_TITLES = [
  { x: 128, lines: ["Interval"] },
  { x: 1285, lines: ["Depth"] },
  { x: 1473, lines: ["Lithology"] },
  { x: 3033, lines: ["Log ", "Interpretation"] },
  { x: 3324, lines: ["Perforation"] },
  { x: 3613, lines: ["Second Log ", "Interpretation"] },
];

const labelWidth = (s: string) => s.split("").reduce((a, c) => a + (c === "." ? 8 : 16), 0);

function Frame() {
  const W = 3798, H = 1479;
  return (
    <svg width={W} height={H} style={{ position: "absolute", left: 0, top: 0, pointerEvents: "none" }}>
      {COL_X.slice(1, -1).map((x) => (
        <line key={"v" + x} x1={x} x2={x} y1={FRAME_TOP} y2={FRAME_BOTTOM} stroke="#000" strokeWidth={5} />
      ))}
      <line x1={557} x2={880} y1={228} y2={228} stroke="#000" strokeWidth={4} />
      {R6.slice(1, -1).map((y) => (
        <line key={"h6" + y} x1={1580} x2={1903} y1={y} y2={y} stroke="#000" strokeWidth={4} />
      ))}
      {R3.slice(1, -1).map((y) => (
        <line key={"h3" + y} x1={1903} x2={2872} y1={y} y2={y} stroke="#000" strokeWidth={4} />
      ))}
      <line x1={COL_X[0]} x2={COL_X[COL_X.length - 1]} y1={HEAD_BOTTOM} y2={HEAD_BOTTOM} stroke="#000" strokeWidth={6} />
      <rect x={COL_X[0]} y={FRAME_TOP} width={COL_X[COL_X.length - 1] - COL_X[0]} height={FRAME_BOTTOM - FRAME_TOP} fill="none" stroke="#000" strokeWidth={7} />

      {COLUMN_TITLES.map((t) => {
        const n = t.lines.length;
        return t.lines.map((s, k) => (
          <text
            key={t.x + "-" + k}
            x={t.x}
            y={HEAD_MID + (n === 1 ? 0 : (k - 0.5) * 42)}
            textAnchor="middle"
            dominantBaseline="central"
            fontFamily={SANS}
            fontSize={34}
            fill="#000"
            style={{ whiteSpace: "pre" }}
          >
            {s}
          </text>
        ));
      })}

      {HEADER_CELLS.map((c) => {
        const cy = (c.y0 + c.y1) / 2;
        const small = c.y1 - c.y0 < 100;
        const ty = cy - 14;
        const ly = cy + (small ? 12 : 24);
        const lx0 = c.x0 + 27 + labelWidth(c.lo) + 3;
        const lx1 = c.x1 - 25 - labelWidth(c.hi) - 3;
        return (
          <g key={c.name}>
            <text x={(c.x0 + c.x1) / 2} y={ty} textAnchor="middle" dominantBaseline="central" fontFamily={SANS} fontWeight="bold" fontSize={36} fill="#000">
              {c.name}
            </text>
            <line x1={lx0} x2={lx1} y1={ly} y2={ly} stroke={c.color} strokeWidth={8} strokeDasharray={c.dash || undefined} />
            <text x={c.x0 + 27} y={ly + 2} textAnchor="start" dominantBaseline="central" fontFamily={SERIF} fontSize={32} fill="#000">
              {c.lo}
            </text>
            <text x={c.x1 - 25} y={ly + 2} textAnchor="end" dominantBaseline="central" fontFamily={SERIF} fontSize={32} fill="#000">
              {c.hi}
            </text>
          </g>
        );
      })}
    </svg>
  );
}

export default function App() {
  return (
    <div style={{ position: "absolute", left: 0, top: 0, width: 3798, height: 1479, background: "#fff", overflow: "hidden" }}>
      {COLUMNS.map((c, i) => (
        <ChartBox key={i} left={COL_X[i]} width={COL_X[i + 1] - COL_X[i]} make={c.make} />
      ))}
      <Frame />
    </div>
  );
}
